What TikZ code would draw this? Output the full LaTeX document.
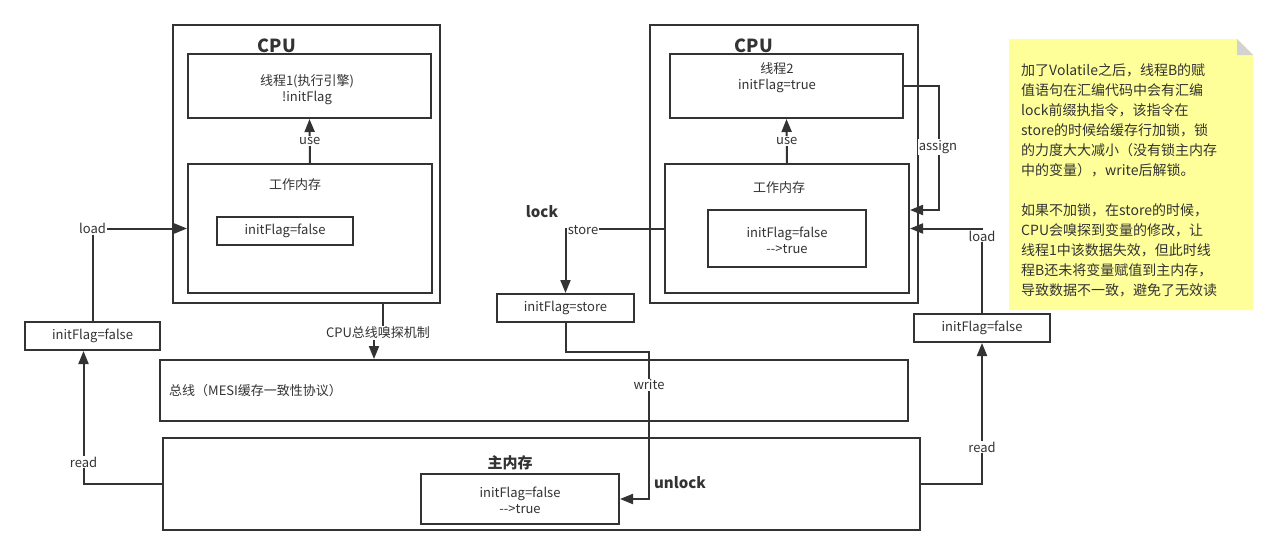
\documentclass[tikz,border=0pt]{standalone}
\usepackage{fontspec}
\setmainfont{Noto Sans CJK SC}
\usetikzlibrary{arrows.meta}
\definecolor{ln}{HTML}{333333}
\definecolor{notefill}{HTML}{FFFF99}
\definecolor{foldc}{HTML}{D2D2D2}
\begin{document}
\begin{tikzpicture}[x=1pt,y=-1pt,
 box/.style={draw=ln, line width=2pt, rectangle, inner sep=0pt},
 arr/.style={draw=ln, line width=2pt, -{Triangle[length=13pt,width=10pt]}},
 plain/.style={draw=ln, line width=2pt},
 txt/.style={text=ln, font=\fontsize{13}{16}\selectfont, inner sep=1pt, align=center},
 lbl/.style={txt, fill=white, inner sep=1pt},
 cpulbl/.style={text=ln, font=\fontsize{18}{20}\selectfont\bfseries, inner sep=0pt},
 boldlbl/.style={text=ln, font=\fontsize{15}{18}\selectfont\bfseries, inner sep=0pt},
]
\useasboundingbox[fill=white] (0,0) rectangle (1278,555);

% left CPU
\node[box, minimum width=267pt, minimum height=278pt] (cpu1) at (306.5,164) {};
\node[cpulbl] (cpu1lbl) at (277,46) {CPU};
\node[box, minimum width=243pt, minimum height=64pt] (thread1) at (309.5,86) {};
\node[txt] (thread1txt) at (307,90) {线程1(执行引擎)\\!initFlag};
\node[box, minimum width=244pt, minimum height=129pt] (wm1) at (310,228.5) {};
\node[txt] (wm1txt) at (295,185) {工作内存};
\node[box, minimum width=136pt, minimum height=28pt] (inner1) at (285,231) {};
\node[txt] (inner1txt) at (285,231) {initFlag=false};

% right CPU
\node[box, minimum width=268pt, minimum height=278pt] (cpu2) at (784,164) {};
\node[cpulbl] (cpu2lbl) at (754,46) {CPU};
\node[box, minimum width=233pt, minimum height=64pt] (thread2) at (786.5,86) {};
\node[txt] (thread2txt) at (777,78) {线程2\\initFlag=true};
\node[box, minimum width=244pt, minimum height=129pt] (wm2) at (787,228.5) {};
\node[txt] (wm2txt) at (779,188) {工作内存};
\node[box, minimum width=158pt, minimum height=57pt] (inner2) at (787,238.5) {};
\node[txt] (inner2txt) at (787,240) {initFlag=false\\-{}->true};

% side boxes
\node[box, minimum width=135pt, minimum height=28pt] (lbox) at (92.5,336) {};
\node[txt] (lboxtxt) at (92.5,336) {initFlag=false};
\node[box, minimum width=137pt, minimum height=28pt] (storebox) at (565.5,308) {};
\node[txt] (storeboxtxt) at (565.5,308) {initFlag=store};
\node[box, minimum width=136pt, minimum height=28pt] (rbox) at (982,328) {};
\node[txt] (rboxtxt) at (982,328) {initFlag=false};

% bus and main memory
\node[box, minimum width=748pt, minimum height=61pt] (bus) at (534,390.5) {};
\node[txt, anchor=west] (bustxt) at (168,391) {总线（MESI缓存一致性协议）};
\node[box, minimum width=757pt, minimum height=92pt] (main) at (541.5,484) {};
\node[boldlbl] (maintxt) at (510,463) {主内存};
\node[box, minimum width=198pt, minimum height=50pt] (maininner) at (520,499) {};
\node[txt] (maininnertxt) at (520,500) {initFlag=false\\-{}->true};

% connectors left
\draw[arr] (wm1.north) -- node[lbl] (use1) {use} (thread1.south);
\draw[arr] (lbox.north) |- node[lbl, pos=0.5] (load1) {load} (wm1.west);
\draw[arr] (main.west) -| ([xshift=-9pt]lbox.south);
\node[lbl] (read1) at (83.5,462) {read};
\node[lbl] (snoop) at (378,333) {CPU总线嗅探机制};
\draw[plain] ([xshift=76.5pt]cpu1.south) -- ([xshift=76.5pt]cpu1.south |- snoop.north);
\draw[arr] ([xshift=-4pt]snoop.south) -- ([xshift=-4pt]snoop.south |- bus.north);

% connectors right
\draw[arr] (wm2.north) -- node[lbl] (use2) {use} (thread2.south);
\draw[arr] (thread2.east) -- ++(35,0) |- ([yshift=18.5pt]wm2.east);
\node[lbl] (assign) at (938,147) {assign};
\draw[arr] (rbox.north) |- (wm2.east);
\node[lbl] (load2) at (982,236) {load};
\draw[arr] (main.east) -| (rbox.south);
\node[lbl] (read2) at (982,447) {read};
\draw[arr] (wm2.west) -| (storebox.north);
\node[lbl] (storelbl) at (583,230) {store};
\node[boldlbl] (lock) at (542,212) {lock};
\coordinate (wb) at (649,352);
\draw[arr] (storebox.south) |- (wb) |- (maininner.east);
\node[lbl] (write) at (649,385) {write};
\node[boldlbl] (unlock) at (680,483) {unlock};

% note
\fill[notefill] (1009,39) -- (1237,39) -- (1253,55) -- (1253,310) -- (1009,310) -- cycle;
\fill[foldc] (1237,39) -- (1237,55) -- (1253,55) -- cycle;
\node[anchor=north west, align=left, text=ln, font=\fontsize{14}{20}\selectfont, inner sep=0pt] (note) at (1021,63) {加了Volatile之后，线程B的赋\\值语句在汇编代码中会有汇编\\lock前缀执指令，该指令在\\store的时候给缓存行加锁，锁\\的力度大大减小（没有锁主内存\\中的变量），write后解锁。\\[20pt]如果不加锁，在store的时候，\\CPU会嗅探到变量的修改，让\\线程1中该数据失效，但此时线\\程B还未将变量赋值到主内存，\\导致数据不一致，避免了无效读};
\end{tikzpicture}
\end{document}
